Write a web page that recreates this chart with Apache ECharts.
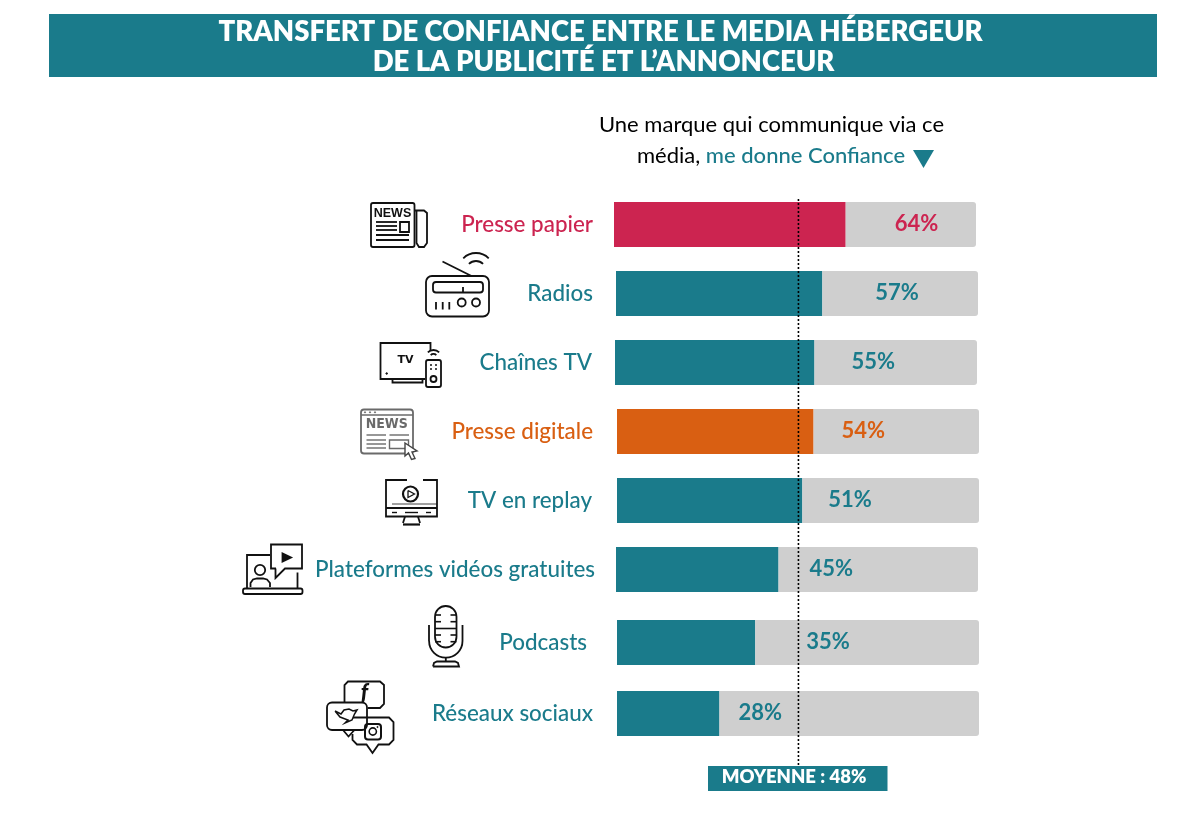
<!DOCTYPE html>
<html>
<head>
    <meta charset="utf-8">
    <style>html,body{margin:0;padding:0;background:#fff}</style>
    <script src="https://cdn.jsdelivr.net/npm/echarts@6/dist/echarts.min.js"></script>
</head>
<body>
    <div id="main" style="width:1203px;height:829px;"></div>
    <script type="text/javascript">

    var titleLines = ['TRANSFERT DE CONFIANCE ENTRE LE MEDIA HÉBERGEUR', 'DE LA PUBLICITÉ ET L’ANNONCEUR'];
    var categories = ['Presse papier', 'Radios', 'Chaînes TV', 'Presse digitale', 'TV en replay', 'Plateformes vidéos gratuites', 'Podcasts', 'Réseaux sociaux'];
    var printedLabels = ['64%', '57%', '55%', '54%', '51%', '45%', '35%', '28%'];
    // bar lengths as drawn in the picture: Podcasts is drawn longer than its 35% label
    var barValues = [64, 57, 55.1, 54.3, 51.2, 44.9, 38.2, 28.3];
    var meanLabel = 'MOYENNE : 48%';
    // the dotted line sits here in the picture, not at 48
    var meanLineValue = [50.4, 50.4];

    // hand placed rows, the original is not on a regular grid
    var rowLeft = [614, 616, 615, 617, 617, 616, 617, 617];
    var rowTop = [202, 271, 340, 409, 478, 547, 620, 691];
    var labelRight = [593, 593, 592, 593, 592, 595, 587, 593];
    var valueOffset = [49, 53, 37, 28, 26, 31, 51, 19];
    var rowColor = ['#cc2450', '#1a7b8b', '#1a7b8b', '#d95f12', '#1a7b8b', '#1a7b8b', '#1a7b8b', '#1a7b8b'];

    var TEAL = '#1a7b8b', GREY = '#cfcfcf', FONT = 'Lato';

    var grids = [], xAxes = [], yAxes = [], series = [];
    categories.forEach(function (name, i) {
        grids.push({left: rowLeft[i], top: rowTop[i], width: 362, height: 45});
        xAxes.push({gridIndex: i, type: 'value', min: 0, max: 100, show: false});
        yAxes.push({
            gridIndex: i, type: 'category', data: [name],
            axisLine: {show: false}, axisTick: {show: false},
            axisLabel: {
                margin: rowLeft[i] - labelRight[i],
                color: rowColor[i], fontFamily: FONT, fontSize: 22.4, fontWeight: 500
            }
        });
        series.push({
            type: 'bar', xAxisIndex: i, yAxisIndex: i, stack: 'r' + i, barWidth: '100%',
            itemStyle: {color: rowColor[i]}, data: [barValues[i]], silent: true
        });
        series.push({
            type: 'bar', xAxisIndex: i, yAxisIndex: i, stack: 'r' + i, barWidth: '100%',
            itemStyle: {color: GREY, borderRadius: [0, 3, 3, 0]},
            data: [100 - barValues[i]], silent: true,
            label: {
                show: true, position: 'insideLeft', distance: 0, offset: [valueOffset[i], -0.5],
                formatter: printedLabels[i], color: rowColor[i],
                fontFamily: FONT, fontSize: 22, fontWeight: 700
            }
        });
    });

    // overlay grid for the average line
    grids.push({left: 616, top: 197, width: 362, height: 568});
    xAxes.push({gridIndex: 8, type: 'value', min: 0, max: 100, show: false});
    yAxes.push({gridIndex: 8, type: 'value', min: 0, max: 1, show: false});
    series.push({
        type: 'line', xAxisIndex: 8, yAxisIndex: 8, symbol: 'none', silent: true, z: 5,
        lineStyle: {color: '#000', width: 1.6, type: [2, 2]},
        data: [[meanLineValue[0], 0], [meanLineValue[1], 1]]
    });

    // icon primitives
    var BLACK = '#111';
    function st(color, w, fill) { return {stroke: color || BLACK, lineWidth: w || 1.8, fill: fill || 'none'}; }
    function R(x, y, w, h, r, c, lw, fill) { return {type: 'rect', shape: {x: x, y: y, width: w, height: h, r: r || 0}, style: st(c, lw, fill), silent: true}; }
    function L(x1, y1, x2, y2, c, lw) { return {type: 'line', shape: {x1: x1, y1: y1, x2: x2, y2: y2}, style: st(c, lw), silent: true}; }
    function C(cx, cy, r, c, lw, fill) { return {type: 'circle', shape: {cx: cx, cy: cy, r: r}, style: st(c, lw, fill), silent: true}; }
    function P(points, c, lw, fill) { return {type: fill ? 'polygon' : 'polyline', shape: {points: points}, style: st(c, lw, fill), silent: true}; }
    function A(cx, cy, r, a0, a1, c, lw) { return {type: 'arc', shape: {cx: cx, cy: cy, r: r, startAngle: a0 * Math.PI / 180, endAngle: a1 * Math.PI / 180}, style: st(c, lw), silent: true}; }
    function T(text, x, y, size, weight, color, extra) {
        var s = {text: text, x: x, y: y, fill: color || BLACK, fontFamily: FONT, fontSize: size, fontWeight: weight || 400, align: 'center', verticalAlign: 'middle'};
        for (var k in extra) s[k] = extra[k];
        return {type: 'text', style: s, silent: true, z: 10};
    }
    function hLines(x1, x2, ys, c, lw) { return ys.map(function (y) { return L(x1, y, x2, y, c, lw); }); }

    var G = '#6a6a6a';
    var icons = [].concat(
        // newspaper
        [R(371, 203, 43.5, 44, 2), P([[415, 210.5], [424, 210.5], [427, 213], [427, 243], [424, 247], [419, 247], [416.5, 243], [416.5, 211]]),
         T('NEWS', 392.5, 213.5, 12.5, 700, BLACK, {fontFamily: 'Liberation Sans'}), R(400, 222, 9, 10, 0)],
        hLines(376, 397, [222, 226, 230]), hLines(376, 409, [235, 240]),
        // radio
        [R(426, 276, 63, 40.5, 6), R(433, 282, 50, 10.5, 3), L(463, 287, 463, 292),
         L(442.5, 261.5, 471.5, 276), C(461.7, 302.5, 4), C(476, 302.5, 4),
         L(436, 302, 436, 309.5), L(442.7, 302, 442.7, 309.5), L(449.3, 302, 449.3, 309.5),
         A(476, 271, 18, 225, 315), A(476, 271, 10, 225, 315)],
        // tv + remote
        [P([[425, 379], [380.5, 379], [380.5, 343], [430.5, 343], [430.5, 351]]), P([[392.5, 379.5], [392.5, 382.5], [422.5, 382.5], [422.5, 379.5]]),
         T('TV', 405.5, 360.5, 11, 900, BLACK, {fontFamily: 'DejaVu Sans'}), C(386.7, 373.5, 0.8, BLACK, 1, BLACK),
         R(426, 360, 15, 27, 2), C(433.5, 379, 3), A(433.5, 358, 4, 225, 315), A(433.5, 358, 8, 225, 315),
         C(431, 365, 0.6, BLACK, 1, BLACK), C(436, 365, 0.6, BLACK, 1, BLACK), C(431, 369, 0.6, BLACK, 1, BLACK), C(436, 369, 0.6, BLACK, 1, BLACK)],
        // digital press, grey
        [R(361, 409.5, 52, 44, 3, G), L(361, 415, 413, 415, G, 1.4), C(365, 412.3, 0.6, G, 1, G), C(370, 412.3, 0.6, G, 1, G), C(375, 412.3, 0.6, G, 1, G),
         T('NEWS', 386.7, 424.5, 14, 700, G, {fontFamily: 'DejaVu Sans Condensed'}),
         R(389.5, 440, 19, 8.5, 0, G, 1.4), L(389.5, 435, 409, 435, G, 1.4),
         P([[405, 443], [417, 451], [412, 452], [415, 458.5], [411.5, 459.5], [408.5, 453], [405, 456], [405, 443]], '#444', 1.4, '#fff')],
        hLines(366.5, 386, [435, 440, 444, 448], G, 1.4),
        // tv replay
        [P([[407, 480], [386, 480], [386, 516.5], [437, 516.5], [437, 480], [423, 480]]), L(386, 508, 437, 508), L(392, 504, 437, 504, BLACK, 0.8),
         C(410.5, 494, 7.5, BLACK, 2.2), P([[408, 490.5], [408, 497.5], [414.5, 494], [408, 490.5]], BLACK, 1.3),
         L(405, 516.5, 403, 523), L(418, 516.5, 420, 523), L(403, 524.5, 420, 524.5, BLACK, 2.2),
         L(392, 512.5, 397, 512.5, BLACK, 1.4), L(405, 512.5, 418, 512.5, BLACK, 1.4), L(426, 512.5, 431, 512.5, BLACK, 1.4)],
        // video platforms
        [R(243, 588.5, 59.5, 5.5, 2), P([[247, 588], [247, 555], [270, 555]]), L(297.5, 572.5, 297.5, 588),
         P([[276, 568.5], [271, 568.5], [271, 544.5], [302, 544.5], [302, 568.5], [285, 568.5], [275.5, 578], [275.5, 568.5]]),
         P([[282.5, 553.5], [282.5, 561.5], [291, 557.5], [282.5, 553.5]], BLACK, 1.8, BLACK),
         C(260, 570, 5.2), P([[250.5, 587], [250.5, 583], [253, 579.5], [257, 578.5], [263, 578.5], [267, 579.5], [270, 583], [270, 587]])],
        // microphone
        [R(435, 606, 21.5, 41.5, 10.7), A(445.8, 641, 16.7, 0, 180), L(429, 625, 429, 641), L(462.5, 625, 462.5, 641),
         L(445.8, 658, 445.8, 662), P([[433, 666.5], [434, 663], [437, 661.5], [455, 661.5], [458, 663], [459, 666.5], [433, 666.5]])],
        hLines(435, 456.5, [628.5], BLACK, 1.6), hLines(435, 441, [615, 621.7, 635, 641.7], BLACK, 1.6), hLines(450.5, 456.5, [615, 621.7, 635, 641.7], BLACK, 1.6),
        // social bubbles
        [P([[344.5, 702], [344.5, 685], [348, 681.5], [380, 681.5], [384, 685], [384, 704], [380, 708], [368, 708]]),
         T('f', 364.5, 693, 22, 900, BLACK, {fontStyle: 'italic'}),
         R(327, 702.5, 40, 27.5, 5), P([[343, 730], [348.5, 736.5], [354, 730.5]]),
         P([[353, 717.5], [389, 717.5], [393.5, 722], [393.5, 740], [389, 744.5], [378.5, 744.5], [372.5, 753], [366.5, 744.5], [357, 744.5], [352.5, 740], [352.5, 734]]),
         R(365, 724, 16, 15.5, 3, BLACK, 2), C(372.8, 731.5, 3.6, BLACK, 1.6), C(377.5, 727, 0.6, BLACK, 1, BLACK),
         P([[335, 711], [341, 714], [344, 710], [349, 709], [353, 711], [357, 710], [354.5, 714], [352, 720], [345, 723], [348, 720], [340, 717], [335, 711]], BLACK, 1.5)]
    );

    var texts = [
        {type: 'rect', shape: {x: 49, y: 14, width: 1108, height: 63}, style: {fill: TEAL}, silent: true},
        T(titleLines[0], 600.5, 32, 27.5, 800, '#fff'),
        T(titleLines[1], 603.5, 62, 27.5, 800, '#fff'),
        T('Une marque qui communique via ce', 771.5, 125, 22, 400, '#000'),
        {
            type: 'text', silent: true,
            style: {
                x: 637, y: 156, verticalAlign: 'middle', fontFamily: FONT, fontSize: 22, fill: '#000',
                text: 'média, {c|me donne Confiance}',
                rich: {c: {fill: TEAL, fontFamily: FONT, fontSize: 22, fontWeight: 500}}
            }
        },
        {type: 'polygon', shape: {points: [[913, 150], [934, 150], [923.5, 168]]}, style: {fill: TEAL}, silent: true},
        {type: 'rect', shape: {x: 708, y: 766, width: 179.5, height: 25}, style: {fill: TEAL}, silent: true},
        T(meanLabel, 794, 777, 18.5, 800, '#fff')
    ];

    var myChart = echarts.init(document.getElementById('main'));
    myChart.setOption({
        animation: false,
        grid: grids,
        xAxis: xAxes,
        yAxis: yAxes,
        series: series,
        graphic: {elements: icons.concat(texts)}
    });

    </script>
</body>
</html>
